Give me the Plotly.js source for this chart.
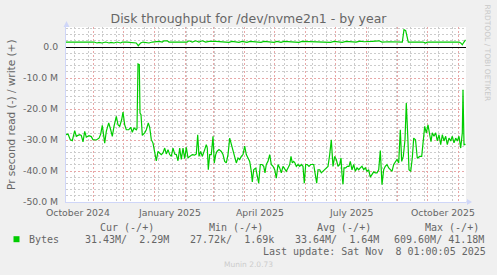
<!DOCTYPE html>
<html>
<head>
<meta charset="utf-8">
<script src="https://cdn.plot.ly/plotly-3.0.1.min.js"></script>
<style>html,body{margin:0;padding:0;background:#F0F0F0;}#chart{width:497px;height:275px;}</style>
</head>
<body>
<div id="chart"></div>
<script>
// ---- data (days since 2024-10-04 01:00 UTC, values in MB/s) ----
const startDate = '2024-10-04 01:00:00';
const spanDays = 400;

const readDays = [0,2,4.3,6.3,8.7,10.3,12,13.7,15.3,17,18.7,20.3,23,25.3,27,30.3,33,34.7,36.3,37.7,38.7,40.3,42.7,44.7,46.3,48,50.3,52,53.7,55.7,57,58.7,60.3,62.7,64.7,66.3,68,70.3,71,72,73.3,74,75,76.3,78.7,80.3,82.3,83.7,85.3,87,88.7,90.3,92,93.7,95.3,97,98.7,100.3,102,103.7,105.3,107,108.7,110.3,112,113.7,115.3,117,118.7,120.3,122,123.7,126.3,128.7,130.3,131.7,133,134.7,136.3,138.7,140.3,141.3,142.3,143.7,145.3,147,148.3,149.7,151,153,155.3,157,158.7,160.3,162,163.7,165.3,167,168.7,170.3,172,173.7,175.3,177,178.7,180.3,182,183.7,185.3,186.3,187.7,189.7,191,192.7,194.3,196,197.7,199,200.3,202,203.7,205.3,207,208.7,210.3,212,213.7,215.3,217,218.7,220.3,222,223.7,225,226.3,227.7,229,230.3,232,233.7,235.3,237,238.3,239.7,241.3,243,244.7,246.3,247.7,249,250.7,252,253.7,255.3,257,258.7,260.3,262,263.7,265.3,267,268.7,270.3,272,273.7,275,276,277,278,279.7,281.3,283,284.3,286,287.7,289.3,291,292.7,294.3,296,297.7,299.3,301,302.7,304.3,306,307.7,309.3,311,312.7,314.3,316,317.7,319.3,321,322.7,324.3,326,327.7,329.3,331,332.7,334.3,335.7,337.3,339,340.3,341.7,343,344.7,346.3,347.7,349.5,351.3,353.7,355.7,357,358.7,360.3,362,363.7,365,366.3,368,369.7,371.3,373,374.7,376.3,378,379.7,381.3,383,384.7,386.3,388,389.7,391.3,393,394.7,396.3,397,398,399.5];
const readValues = [-28.3,-28.1,-29.9,-30.2,-27.0,-28.8,-28.5,-28.3,-28.5,-30.6,-27.2,-29.1,-28.6,-28.9,-29.9,-30.0,-29.4,-28.1,-25.3,-28.3,-31.0,-27.2,-24.5,-26.7,-28.8,-25.6,-22.4,-25.1,-25.6,-23.4,-21.0,-25.1,-26.7,-26.7,-25.9,-27.5,-26.1,-26.7,-26.3,-5.5,-5.7,-21.3,-21.8,-28.5,-27.7,-26.7,-24.5,-25.9,-29.9,-31.0,-33.7,-36.7,-33.7,-34.2,-34.7,-34.2,-32.6,-34.5,-33.1,-34.7,-35.3,-32.6,-34.5,-34.7,-36.7,-32.6,-36.3,-32.6,-36.0,-32.4,-35.8,-35.3,-34.7,-34.9,-34.5,-28.3,-35.3,-33.7,-35.3,-33.1,-31.5,-32.6,-39.6,-34.7,-34.7,-28.8,-37.4,-34.7,-33.7,-33.1,-33.7,-34.7,-36.9,-37.4,-34.7,-29.4,-31.5,-33.7,-35.3,-37.4,-35.8,-36.3,-35.3,-34.7,-32.0,-34.7,-35.8,-36.9,-40.1,-43.5,-39.6,-39.0,-41.2,-43.9,-37.9,-37.9,-38.5,-40.6,-37.9,-36.9,-34.7,-37.9,-38.5,-39.6,-42.3,-37.9,-39.0,-40.6,-38.5,-39.6,-40.1,-39.0,-37.9,-35.3,-37.4,-36.9,-37.4,-38.5,-37.9,-38.5,-37.9,-38.5,-43.9,-37.9,-37.9,-38.5,-37.9,-37.9,-37.9,-40.6,-43.9,-39.6,-39.6,-40.6,-40.1,-39.6,-39.0,-38.5,-34.7,-29.9,-38.5,-35.3,-36.3,-38.5,-37.9,-35.8,-41.2,-44.3,-39.0,-39.0,-38.5,-38.5,-36.9,-39.6,-37.9,-40.1,-39.0,-39.6,-39.0,-38.5,-39.6,-39.0,-40.1,-39.6,-42.0,-41.2,-40.3,-40.6,-40.6,-39.6,-33.4,-44.4,-39.6,-38.5,-37.9,-39.0,-39.6,-40.1,-37.9,-36.9,-36.3,-37.4,-26.7,-36.9,-35.3,-29.9,-18.1,-28.3,-39.6,-40.1,-35.8,-29.4,-29.9,-35.9,-35.3,-35.3,-29.9,-25.6,-27.7,-25.1,-28.3,-30.5,-27.7,-28.8,-27.7,-30.3,-28.3,-31.5,-28.3,-30.3,-28.8,-31.5,-29.4,-30.3,-28.8,-30.9,-29.4,-30.3,-28.8,-32.6,-27.7,-13.8,-31.5,-31.4];

const writeDays = [0,10,20,28,31,33,36,39.7,43,45,48,51,54.7,56.3,61,68,70.3,72.3,74.7,77,83,86.3,93,96.3,98,101.3,103,121,123,126.3,129.7,133,136.3,139.7,143,150,163,166,173,176,181,184,195,198,208,211,215,218,229.7,233,236,264.7,268,276.3,280,286,290,294,298,306,313,316,323,336.3,338,339.7,341.3,342.3,357,359.7,361.3,393,394.7,396.3,398,399.5];
const writeValues = [1.6,1.6,1.6,1.6,1.3,1.5,1.3,1.6,1.3,1.5,1.3,1.6,1.3,1.6,1.6,1.3,1.3,0.4,1.3,1.6,1.3,1.6,1.8,1.6,2.0,2.0,1.6,1.6,2.0,1.6,2.0,1.6,2.0,1.6,1.8,1.8,1.5,1.8,1.5,1.8,1.5,1.8,1.5,1.8,1.5,1.8,1.5,1.8,1.5,1.5,1.8,1.5,1.8,1.5,1.8,1.8,1.6,1.9,1.7,1.8,2.0,1.6,1.7,1.6,5.6,5.3,3.5,1.6,1.6,1.3,1.6,1.6,1.3,0.7,1.6,2.3];

const yTickVals = [0,-10,-20,-30,-40,-50];
const yTickText = ['0.0','-10.0 M','-20.0 M','-30.0 M','-40.0 M','-50.0 M'];
const xLabelDates = ['2024-10-16','2025-01-16','2025-04-16','2025-07-16','2025-10-16'];
const xLabelText = ['October 2024','January 2025','April 2025','July 2025','October 2025'];

const legendHeaders = ['Cur (-/+)','Min (-/+)','Avg (-/+)','Max (-/+)'];
const legendValues = ['31.43M/  2.29M','27.72k/  1.69k','33.64M/  1.64M','609.60M/ 41.18M'];
const seriesName = 'Bytes';
const lastUpdate = 'Last update: Sat Nov  8 01:00:05 2025';

// ---- helpers ----
const DAY = 86400000;
const t0 = Date.parse(startDate.replace(' ', 'T') + 'Z');
const toX = d => t0 + d * DAY;
const PL = 66, PR = 466, PT = 27, PB = 202;
const px = x => (x - PL) / (PR - PL);
const py = y => (PB - y) / (PB - PT);

const GREEN = '#00CC00';
const FONT = 'DejaVu Sans';
const MONO = 'DejaVu Sans Mono';
const TXT = '#666666';
const MGRID = '#E8A8A8';
const GRID = '#CCCCCC';
const DASH = '2px,2px';

const traces = [
  {x: readDays.map(toX), y: readValues, type: 'scatter', mode: 'lines',
   line: {color: GREEN, width: 1.2}, hoverinfo: 'skip', showlegend: false},
  {x: writeDays.map(toX), y: writeValues, type: 'scatter', mode: 'lines',
   line: {color: GREEN, width: 1.2}, hoverinfo: 'skip', showlegend: false}
];

const ann = [];
ann.push({text: 'Pr second read (-) / write (+)', xref: 'paper', yref: 'paper',
  x: px(11), y: py(115), textangle: -90, showarrow: false,
  xanchor: 'center', yanchor: 'middle', font: {family: FONT, size: 10.5, color: TXT}});
ann.push({text: 'RRDTOOL / TOBI OETIKER', xref: 'paper', yref: 'paper',
  x: px(487.5), y: py(53), textangle: 90, showarrow: false,
  xanchor: 'center', yanchor: 'middle', font: {family: FONT, size: 7.5, color: '#C8C8C8'}});
xLabelDates.forEach((d, i) => ann.push({text: xLabelText[i], xref: 'x', yref: 'paper',
  x: d, y: py(212.3), showarrow: false, xanchor: 'center', yanchor: 'middle',
  font: {family: FONT, size: 9.3, color: TXT}}));
const hdrX = [98, 206.7, 315, 422.7];
const valX = [82.7, 188.3, 293.3, 391.7];
legendHeaders.forEach((h, i) => ann.push({text: h, xref: 'paper', yref: 'paper',
  x: px(hdrX[i]), y: py(227.7), showarrow: false, xanchor: 'left', yanchor: 'middle',
  font: {family: MONO, size: 10, color: TXT}}));
legendValues.forEach((v, i) => ann.push({text: v.replace(/ /g, '&nbsp;'), xref: 'paper', yref: 'paper',
  x: px(valX[i]), y: py(239.3), showarrow: false, xanchor: 'left', yanchor: 'middle',
  font: {family: MONO, size: 10, color: TXT}}));
ann.push({text: seriesName, xref: 'paper', yref: 'paper', x: px(26.7), y: py(239.3),
  showarrow: false, xanchor: 'left', yanchor: 'middle', font: {family: MONO, size: 10, color: TXT}});
ann.push({text: lastUpdate.replace(/ /g, '&nbsp;'), xref: 'paper', yref: 'paper', x: px(260.7), y: py(251),
  showarrow: false, xanchor: 'left', yanchor: 'middle', font: {family: MONO, size: 10, color: TXT}});
ann.push({text: 'Munin 2.0.73', xref: 'paper', yref: 'paper', x: px(248.5), y: py(264),
  showarrow: false, xanchor: 'center', yanchor: 'middle', font: {family: FONT, size: 7.5, color: '#CCCCCC'}});

const AXIS = '#CFD6F8';
const shapes = [
  {type: 'rect', xref: 'paper', yref: 'paper', x0: px(13.5), x1: px(19.5), y0: py(242.2), y1: py(236.2),
   fillcolor: GREEN, line: {width: 0}},
  {type: 'path', xref: 'paper', yref: 'paper',
   path: `M ${px(63.5)} ${py(27)} L ${px(69.5)} ${py(27)} L ${px(66.5)} ${py(21)} Z`,
   fillcolor: AXIS, line: {width: 0}},
  {type: 'line', xref: 'paper', yref: 'paper', x0: 1, x1: px(468), y0: 0, y1: 0, line: {color: AXIS, width: 1}},
  {type: 'path', xref: 'paper', yref: 'paper',
   path: `M ${px(467)} ${py(205)} L ${px(467)} ${py(199)} L ${px(472)} ${py(202)} Z`,
   fillcolor: AXIS, line: {width: 0}}
];

const layout = {
  width: 497, height: 275,
  margin: {l: PL, r: 497 - PR, t: PT, b: 275 - PB, pad: 0},
  paper_bgcolor: '#F0F0F0', plot_bgcolor: '#FFFFFF',
  font: {family: FONT, color: TXT, size: 9.3},
  title: {text: 'Disk throughput for /dev/nvme2n1 - by year', x: 0.5, xanchor: 'center',
    xref: 'container', yref: 'container', y: 1 - 18.5 / 275, yanchor: 'middle',
    font: {family: FONT, size: 12.5, color: TXT}},
  showlegend: false,
  xaxis: {type: 'date', range: [toX(0), toX(spanDays)], fixedrange: true,
    tickmode: 'linear', tick0: '2024-10-01', dtick: 'M1', showticklabels: false, ticks: '',
    showgrid: true, gridcolor: MGRID, griddash: DASH, gridwidth: 1,
    minor: {tickmode: 'linear', tick0: '2024-10-13', dtick: 14 * DAY, showgrid: true,
      gridcolor: GRID, griddash: DASH, gridwidth: 1, ticks: ''},
    showline: true, linecolor: AXIS, linewidth: 1, mirror: false, zeroline: false},
  yaxis: {range: [-50, 6.45], fixedrange: true,
    tickmode: 'array', tickvals: yTickVals, ticktext: yTickText, ticks: '',
    ticklabelstandoff: 5,
    tickfont: {family: FONT, size: 9.3, color: TXT},
    showgrid: true, gridcolor: MGRID, griddash: DASH, gridwidth: 1,
    minor: {tickmode: 'linear', tick0: 0, dtick: 2, showgrid: true,
      gridcolor: GRID, griddash: DASH, gridwidth: 1, ticks: ''},
    showline: true, linecolor: AXIS, linewidth: 1,
    zeroline: true, zerolinecolor: '#000000', zerolinewidth: 1},
  annotations: ann,
  shapes: shapes
};

Plotly.newPlot('chart', traces, layout, {staticPlot: true, displayModeBar: false});
</script>
</body>
</html>
